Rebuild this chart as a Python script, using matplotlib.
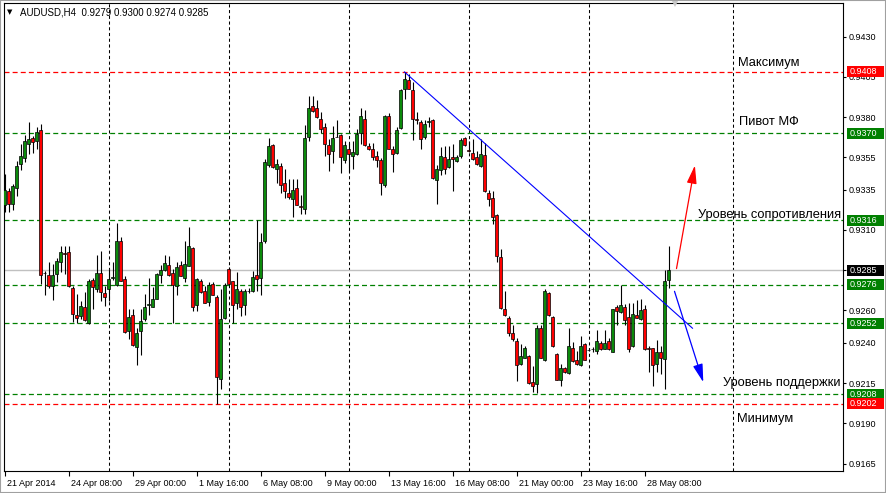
import numpy as np
import matplotlib
matplotlib.use("Agg")
import matplotlib.pyplot as plt
import matplotlib.transforms as mtransforms
from matplotlib.patches import Rectangle

plt.rcParams['font.family'] = ['Liberation Sans', 'DejaVu Sans']

# ---------------- data ----------------
title_text = "AUDUSD,H4  0.9279 0.9300 0.9274 0.9285"

opens = [0.93255, 0.93342, 0.93260, 0.93358, 0.93507, 0.93549, 0.93636, 0.93669, 0.93652, 0.93718,
         0.92832, 0.92820, 0.92754, 0.92828, 0.92899, 0.92952, 0.92961, 0.92737, 0.92572, 0.92568,
         0.92621, 0.92520, 0.92789, 0.92735, 0.92831, 0.92706, 0.92735, 0.92804, 0.92756, 0.93033,
         0.92797, 0.92475, 0.92570, 0.92375, 0.92470, 0.92545, 0.92636, 0.92624, 0.92673, 0.92818,
         0.92851, 0.92884, 0.92831, 0.92753, 0.92882, 0.92803, 0.92877, 0.92990, 0.92637, 0.92786,
         0.92724, 0.92653, 0.92765, 0.92686, 0.92175, 0.92553, 0.92857, 0.92782, 0.92649, 0.92724,
         0.92636, 0.92718, 0.92720, 0.92819, 0.92804, 0.93032, 0.93505, 0.93625, 0.93476, 0.93497,
         0.93389, 0.93327, 0.93294, 0.93360, 0.93248, 0.93227, 0.93675, 0.93870, 0.93854, 0.93791,
         0.93737, 0.93625, 0.93588, 0.93675, 0.93688, 0.93535, 0.93605, 0.93560, 0.93568, 0.93700,
         0.93787, 0.93622, 0.93601, 0.93560, 0.93531, 0.93378, 0.93808, 0.93605, 0.93577, 0.93734,
         0.93977, 0.94031, 0.93969, 0.93787, 0.93771, 0.93676, 0.93770, 0.93783, 0.93409, 0.93471,
         0.93550, 0.93488, 0.93550, 0.93525, 0.93558, 0.93671, 0.93592, 0.93579, 0.93554, 0.93496,
         0.93567, 0.93330, 0.93297, 0.93193, 0.92931, 0.92607, 0.92553, 0.92460, 0.92411, 0.92266,
         0.92308, 0.92320, 0.92159, 0.92146, 0.92490, 0.92291, 0.92706, 0.92557, 0.92333, 0.92167,
         0.92246, 0.92212, 0.92366, 0.92295, 0.92262, 0.92391, 0.92353, 0.92360, 0.92349, 0.92399,
         0.92362, 0.92411, 0.92345, 0.92622, 0.92589, 0.92622, 0.92560, 0.92378, 0.92573, 0.92548,
         0.92610, 0.92366, 0.92366, 0.92266, 0.92345, 0.92296, 0.92790]
highs = [0.93445, 0.93358, 0.93383, 0.93528, 0.93631, 0.93690, 0.93768, 0.93681, 0.93739, 0.93760,
         0.92845, 0.92899, 0.92890, 0.92928, 0.93002, 0.92998, 0.92998, 0.92750, 0.92700, 0.92659,
         0.92717, 0.92793, 0.92802, 0.92946, 0.92967, 0.92752, 0.92860, 0.92900, 0.93145, 0.93054,
         0.92814, 0.92607, 0.92607, 0.92490, 0.92607, 0.92702, 0.92802, 0.92748, 0.92835, 0.92884,
         0.92946, 0.92938, 0.92855, 0.92898, 0.92906, 0.93031, 0.93118, 0.92994, 0.92803, 0.92798,
         0.92753, 0.92778, 0.92778, 0.92695, 0.92736, 0.92769, 0.92870, 0.92786, 0.92836, 0.92736,
         0.92736, 0.92740, 0.92848, 0.93164, 0.93078, 0.93538, 0.93671, 0.93634, 0.93538, 0.93518,
         0.93476, 0.93418, 0.93418, 0.93418, 0.93314, 0.93750, 0.93932, 0.93932, 0.93907, 0.93833,
         0.93766, 0.93663, 0.93746, 0.93783, 0.93692, 0.93651, 0.93639, 0.93651, 0.93725, 0.93857,
         0.93841, 0.93639, 0.93639, 0.93589, 0.93548, 0.93812, 0.93824, 0.93622, 0.93738, 0.93973,
         0.94080, 0.94068, 0.94018, 0.93829, 0.93779, 0.93783, 0.93800, 0.93791, 0.93500, 0.93617,
         0.93621, 0.93621, 0.93633, 0.93567, 0.93671, 0.93675, 0.93654, 0.93662, 0.93587, 0.93662,
         0.93637, 0.93347, 0.93342, 0.93197, 0.92981, 0.92719, 0.92566, 0.92511, 0.92432, 0.92391,
         0.92378, 0.92324, 0.92254, 0.92507, 0.92507, 0.92731, 0.92714, 0.92565, 0.92337, 0.92266,
         0.92250, 0.92490, 0.92403, 0.92349, 0.92440, 0.92399, 0.92370, 0.92374, 0.92478, 0.92411,
         0.92478, 0.92432, 0.92610, 0.92635, 0.92759, 0.92643, 0.92647, 0.92647, 0.92668, 0.92672,
         0.92631, 0.92382, 0.92370, 0.92419, 0.92378, 0.92850, 0.93000]
lows = [0.93213, 0.93209, 0.93226, 0.93309, 0.93470, 0.93524, 0.93574, 0.93578, 0.93602, 0.92766,
        0.92696, 0.92740, 0.92667, 0.92779, 0.92837, 0.92828, 0.92746, 0.92530, 0.92522, 0.92547,
        0.92534, 0.92516, 0.92607, 0.92715, 0.92657, 0.92628, 0.92660, 0.92790, 0.92752, 0.92781,
        0.92462, 0.92421, 0.92379, 0.92263, 0.92325, 0.92537, 0.92570, 0.92620, 0.92669, 0.92768,
        0.92847, 0.92814, 0.92520, 0.92699, 0.92811, 0.92778, 0.92873, 0.92595, 0.92595, 0.92711,
        0.92645, 0.92628, 0.92695, 0.92020, 0.92113, 0.92549, 0.92761, 0.92520, 0.92607, 0.92566,
        0.92570, 0.92711, 0.92716, 0.92720, 0.92696, 0.93016, 0.93489, 0.93484, 0.93393, 0.93327,
        0.93298, 0.93294, 0.93177, 0.93252, 0.93198, 0.93198, 0.93650, 0.93833, 0.93795, 0.93700,
        0.93559, 0.93468, 0.93518, 0.93675, 0.93455, 0.93515, 0.93461, 0.93477, 0.93564, 0.93634,
        0.93622, 0.93597, 0.93535, 0.93490, 0.93316, 0.93366, 0.93601, 0.93457, 0.93572, 0.93729,
        0.93915, 0.93973, 0.93659, 0.93760, 0.93605, 0.93663, 0.93740, 0.93417, 0.93259, 0.93438,
        0.93446, 0.93484, 0.93342, 0.93521, 0.93546, 0.93621, 0.93583, 0.93534, 0.93500, 0.93492,
        0.93338, 0.93247, 0.93135, 0.92902, 0.92611, 0.92566, 0.92440, 0.92410, 0.92163, 0.92262,
        0.92304, 0.92146, 0.92092, 0.92088, 0.92304, 0.92287, 0.92565, 0.92374, 0.92167, 0.92134,
        0.92212, 0.92208, 0.92283, 0.92262, 0.92258, 0.92291, 0.92349, 0.92345, 0.92329, 0.92353,
        0.92358, 0.92353, 0.92341, 0.92511, 0.92585, 0.92511, 0.92341, 0.92374, 0.92552, 0.92544,
        0.92353, 0.92217, 0.92130, 0.92217, 0.92209, 0.92113, 0.92740]
closes = [0.93350, 0.93259, 0.93371, 0.93495, 0.93557, 0.93652, 0.93661, 0.93648, 0.93706, 0.92820,
          0.92830, 0.92750, 0.92820, 0.92907, 0.92961, 0.92950, 0.92750, 0.92576, 0.92555, 0.92625,
          0.92539, 0.92781, 0.92748, 0.92835, 0.92715, 0.92686, 0.92797, 0.92806, 0.93029, 0.92785,
          0.92466, 0.92557, 0.92388, 0.92458, 0.92537, 0.92624, 0.92638, 0.92669, 0.92826, 0.92851,
          0.92897, 0.92818, 0.92756, 0.92869, 0.92815, 0.92886, 0.92998, 0.92624, 0.92798, 0.92715,
          0.92649, 0.92757, 0.92699, 0.92188, 0.92545, 0.92761, 0.92765, 0.92636, 0.92736, 0.92624,
          0.92724, 0.92724, 0.92807, 0.92798, 0.93028, 0.93522, 0.93621, 0.93489, 0.93509, 0.93376,
          0.93339, 0.93306, 0.93347, 0.93256, 0.93240, 0.93671, 0.93858, 0.93837, 0.93800, 0.93729,
          0.93634, 0.93571, 0.93671, 0.93679, 0.93551, 0.93626, 0.93568, 0.93581, 0.93692, 0.93804,
          0.93626, 0.93605, 0.93552, 0.93535, 0.93391, 0.93804, 0.93605, 0.93568, 0.93721, 0.93969,
          0.94039, 0.93977, 0.93787, 0.93783, 0.93667, 0.93758, 0.93776, 0.93421, 0.93480, 0.93559,
          0.93479, 0.93542, 0.93538, 0.93554, 0.93658, 0.93625, 0.93590, 0.93542, 0.93509, 0.93571,
          0.93342, 0.93293, 0.93180, 0.92935, 0.92615, 0.92570, 0.92462, 0.92420, 0.92262, 0.92316,
          0.92366, 0.92150, 0.92134, 0.92494, 0.92308, 0.92722, 0.92569, 0.92378, 0.92171, 0.92241,
          0.92217, 0.92378, 0.92287, 0.92266, 0.92378, 0.92295, 0.92355, 0.92363, 0.92411, 0.92358,
          0.92399, 0.92358, 0.92610, 0.92598, 0.92631, 0.92544, 0.92362, 0.92577, 0.92556, 0.92606,
          0.92358, 0.92362, 0.92262, 0.92345, 0.92308, 0.92784, 0.92850]

x_tick_bars = [0, 16, 32, 48, 64, 80, 96, 112, 128, 144, 160]
x_tick_labels = ["21 Apr 2014", "24 Apr 08:00", "29 Apr 00:00", "1 May 16:00", "6 May 08:00",
                 "9 May 00:00", "13 May 16:00", "16 May 08:00", "21 May 00:00", "23 May 16:00",
                 "28 May 08:00"]
week_separator_bars = [26, 56, 86, 116, 146, 182]
y_tick_prices = [0.9430, 0.9405, 0.9380, 0.9355, 0.9335, 0.9310, 0.9285,
                 0.9260, 0.9240, 0.9215, 0.9190, 0.9165]

level_prices = [0.9408, 0.9370, 0.9316, 0.9276, 0.9252, 0.9208, 0.9202]
level_kinds = ['max', 'lvl', 'lvl', 'lvl', 'lvl', 'lvl', 'min']
bid_price = 0.9285

level_label_texts = ["Максимум", "Пивот МФ", "Уровень сопротивления", "Уровень поддержки", "Минимум"]
level_label_bars = [183.4, 183.6, 209.1, 209.1, 183.2]
level_label_prices = [0.94136, 0.93770, 0.93195, 0.92147, 0.91925]
level_label_align = ['left', 'left', 'right', 'right', 'left']

trend_bars = [100, 172]
trend_prices = [0.9408, 0.9249]
up_arrow_bars = [168.0, 172.6]
up_arrow_prices = [0.92860, 0.93500]
down_arrow_bars = [167.5, 174.7]
down_arrow_prices = [0.92719, 0.92155]
shift_marker_bar = 167.6

# ---------------- styling ----------------
bull_color = '#0b8a0b'
bear_color = '#ff0000'
green_level = '#008000'
red_level = '#ff0000'

W, H = 886, 493
fig = plt.figure(figsize=(W / 100, H / 100), dpi=100)
fig.patch.set_facecolor('white')
L_px, R_px, T_px, B_px = 3.5, 843.0, 3.0, 471.0
ax = fig.add_axes([L_px / W, 1 - B_px / H, (R_px - L_px) / W, (B_px - T_px) / H])
ax.set_facecolor('white')

bar_px = 4.0
first_bar_px = 4.5
ax.set_xlim((L_px - first_bar_px) / bar_px, (R_px - first_bar_px) / bar_px)
ref_price, ref_px, px_per_unit = 0.9430, 36.5, 16117.0
ax.set_ylim(ref_price - (B_px - ref_px) / px_per_unit, ref_price + (ref_px - T_px) / px_per_unit)

# week separators
for k in week_separator_bars:
    ax.axvline(k, color='black', lw=0.75, ls=(0, (3, 2.5)), zorder=1)

# bid line
ax.axhline(bid_price, color='#c0c0c0', lw=1.0, zorder=1.5)

# levels
for p, kind in zip(level_prices, level_kinds):
    col = green_level if kind == 'lvl' else red_level
    ax.axhline(p, color=col, lw=0.9, ls=(0, (4, 2.5)), zorder=2)

# candles
o = np.array(opens); c = np.array(closes); h = np.array(highs); l = np.array(lows)
idx = np.arange(len(o))
up = c >= o
ax.vlines(idx, l, h, color='black', lw=0.8, zorder=3)
body_bottom = np.minimum(o, c)
body_h = np.maximum(np.abs(c - o), 0.00004)
cols = np.where(up, bull_color, bear_color)
ax.bar(idx, body_h, bottom=body_bottom, width=0.62, color=cols, edgecolor='black',
       linewidth=0.5, zorder=4)

# trend line
ax.plot(trend_bars, trend_prices, color='#0000ff', lw=0.8, zorder=5)

# arrows
ax.annotate('', xy=(up_arrow_bars[1], up_arrow_prices[1]), xytext=(up_arrow_bars[0], up_arrow_prices[0]),
            arrowprops=dict(arrowstyle='-|>,head_length=1.1,head_width=0.3', color='#ff0000', lw=0.9,
                            mutation_scale=10, shrinkA=0, shrinkB=0), zorder=6)
ax.annotate('', xy=(down_arrow_bars[1], down_arrow_prices[1]), xytext=(down_arrow_bars[0], down_arrow_prices[0]),
            arrowprops=dict(arrowstyle='-|>,head_length=1.1,head_width=0.3', color='#0000ff', lw=0.9,
                            mutation_scale=10, shrinkA=0, shrinkB=0), zorder=6)

# level texts
for t, xb, yp, al in zip(level_label_texts, level_label_bars, level_label_prices, level_label_align):
    ax.text(xb, yp, t, ha=al, va='center', fontsize=9.3, color='black', zorder=7)

# shift marker
ax.plot([shift_marker_bar], [ax.get_ylim()[1]], marker='v', markersize=6, color='#c8c8c8',
        clip_on=False, zorder=8, markeredgewidth=0)

# axes / ticks
for s in ax.spines.values():
    s.set_color('black'); s.set_linewidth(0.8)
ax.yaxis.tick_right()
ax.set_yticks(y_tick_prices)
ax.set_yticklabels([f"{p:.4f}" for p in y_tick_prices])
ax.tick_params(axis='y', direction='out', length=2.5, width=0.8, pad=1.5, labelsize=6.5, colors='black')
ax.set_xticks(x_tick_bars)
ax.set_xticklabels(x_tick_labels)
ax.tick_params(axis='x', direction='out', length=3.5, width=0.8, pad=2.0, labelsize=6.5, colors='black')
offset = mtransforms.ScaledTranslation(1.5 / 72, 0, fig.dpi_scale_trans)
for lab in ax.get_xticklabels():
    lab.set_horizontalalignment('left')
    lab.set_transform(lab.get_transform() + offset)

# price boxes on the right axis
box_tr = mtransforms.blended_transform_factory(fig.transFigure, ax.transData)
box_h = 11.0 / px_per_unit
box_items = [(p, (green_level if k == 'lvl' else red_level)) for p, k in zip(level_prices, level_kinds)]
box_items.append((bid_price, 'black'))
for p, col in box_items:
    fig.patches.append(Rectangle((846.5 / W, p - box_h / 2), 37.0 / W, box_h, transform=box_tr,
                                 facecolor=col, edgecolor='none', zorder=10))
    fig.text(849.5 / W, p, f"{p:.4f}", transform=box_tr, ha='left', va='center',
             fontsize=6.5, color='white', zorder=11)

# title
fig.text(20 / W, 1 - 12.5 / H, title_text, fontsize=7, ha='left', va='center', color='black')
fig.text(7 / W, 1 - 12.5 / H, '▼', fontsize=5, ha='left', va='center', color='black',
         family=['DejaVu Sans'])

# window frame
fig.patches.append(Rectangle((0, 0), 1, 1, transform=fig.transFigure, fill=False,
                             edgecolor='#a0a0a0', linewidth=1.5, zorder=20))

fig.savefig('out.png', dpi=100, facecolor='white')
